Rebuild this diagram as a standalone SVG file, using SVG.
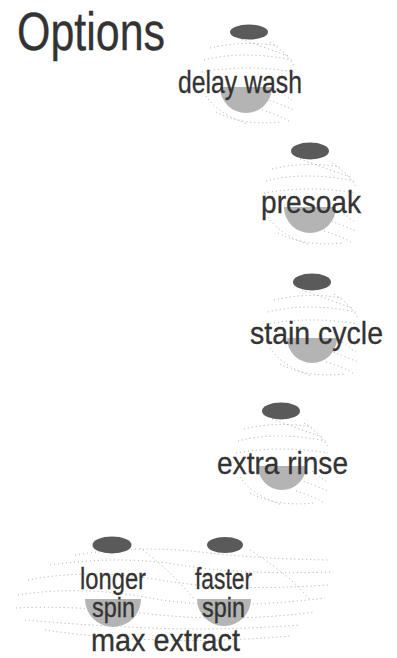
<svg xmlns="http://www.w3.org/2000/svg" xmlns:xlink="http://www.w3.org/1999/xlink" width="397" height="658" viewBox="0 0 397 658">
<style>
.lbl{font-family:"Liberation Sans",Arial,sans-serif;fill:#333;stroke:#333;stroke-width:0.3;}
.btn{fill:#5a5a5a;}
.blob{fill:#b4b4b4;}
.dot{fill:none;stroke:#a8a8a8;stroke-width:1;stroke-dasharray:1 3;}
</style>
<defs>
<g id="globe">
<path class="dot" d="M-38,-34 Q-5,-42 30,-36"/>
<path class="dot" d="M-44,-22 Q-5,-32 44,-22"/>
<path class="dot" d="M-46,-10 Q0,-18 46,-10"/>
<path class="dot" d="M-10,-44 Q15,-35 40,-26"/>
<path class="dot" d="M22,-40 Q38,-30 46,-16"/>
<path class="dot" d="M-42,14 Q-30,32 0,42"/>
<path class="dot" d="M-32,30 Q-5,44 32,40"/>
<path class="dot" d="M10,14 Q32,22 46,28"/>
<path class="dot" d="M14,28 Q34,34 42,40"/>
<path class="dot" d="M30,8 Q40,16 44,18"/>
</g>
</defs>
<text class="lbl" x="17" y="50" font-size="53" textLength="148" lengthAdjust="spacingAndGlyphs">Options</text>

<g id="node-delay-wash">
<use xlink:href="#globe" href="#globe" transform="translate(248,82)"/>
<path class="blob" d="M220,87 A26,26 0 0 0 272,87 Z"/>
<ellipse class="btn" cx="249" cy="32" rx="19" ry="7.5"/>
<text class="lbl" x="178" y="93" font-size="32" textLength="124" lengthAdjust="spacingAndGlyphs">delay wash</text>
</g>

<g id="node-presoak">
<use xlink:href="#globe" href="#globe" transform="translate(310,203)"/>
<path class="blob" d="M284,207 A26,26 0 0 0 336,207 Z"/>
<ellipse class="btn" cx="310" cy="151" rx="19" ry="8.5"/>
<text class="lbl" x="261" y="213" font-size="32" textLength="100" lengthAdjust="spacingAndGlyphs">presoak</text>
</g>

<g id="node-stain-cycle">
<use xlink:href="#globe" href="#globe" transform="translate(312,334)"/>
<path class="blob" d="M287,338 A25,25 0 0 0 337,338 Z"/>
<ellipse class="btn" cx="312" cy="282" rx="19" ry="8.5"/>
<text class="lbl" x="250" y="344" font-size="32" textLength="133" lengthAdjust="spacingAndGlyphs">stain cycle</text>
</g>

<g id="node-extra-rinse">
<use xlink:href="#globe" href="#globe" transform="translate(282,463)"/>
<path class="blob" d="M258,466 A24,24 0 0 0 306,466 Z"/>
<ellipse class="btn" cx="281" cy="411" rx="19" ry="8.5"/>
<text class="lbl" x="217" y="474" font-size="32" textLength="131" lengthAdjust="spacingAndGlyphs">extra rinse</text>
</g>

<g id="node-max-extract">
<g>
<path class="dot" d="M75,555 Q140,545 200,552 T330,560"/>
<path class="dot" d="M50,565 Q120,555 180,565 T330,572"/>
<path class="dot" d="M28,580 Q90,568 160,580 T328,585"/>
<path class="dot" d="M18,595 Q80,585 150,598 T325,598"/>
<path class="dot" d="M16,608 Q70,605 150,614 T315,612"/>
<path class="dot" d="M25,620 Q80,625 150,628 T300,625"/>
<path class="dot" d="M45,630 Q100,638 160,640 T290,636"/>
<path class="dot" d="M140,548 Q170,570 195,600"/>
<path class="dot" d="M250,550 Q290,575 310,600"/>
</g>
<path class="blob" d="M85,599 A28,28 0 0 0 141,599 Z"/>
<path class="blob" d="M197,599 A27,27 0 0 0 251,599 Z"/>
<ellipse class="btn" cx="112" cy="545" rx="19.5" ry="8.5"/>
<ellipse class="btn" cx="225" cy="545" rx="18" ry="8"/>
<text class="lbl" x="80" y="589" font-size="29" textLength="66" lengthAdjust="spacingAndGlyphs">longer</text>
<text class="lbl" x="195" y="589" font-size="29" textLength="57" lengthAdjust="spacingAndGlyphs">faster</text>
<text class="lbl" x="92" y="617" font-size="28" textLength="43" lengthAdjust="spacingAndGlyphs">spin</text>
<text class="lbl" x="202" y="617" font-size="28" textLength="43" lengthAdjust="spacingAndGlyphs">spin</text>
<text class="lbl" x="91" y="651" font-size="32" textLength="149" lengthAdjust="spacingAndGlyphs">max extract</text>
</g>
</svg>
